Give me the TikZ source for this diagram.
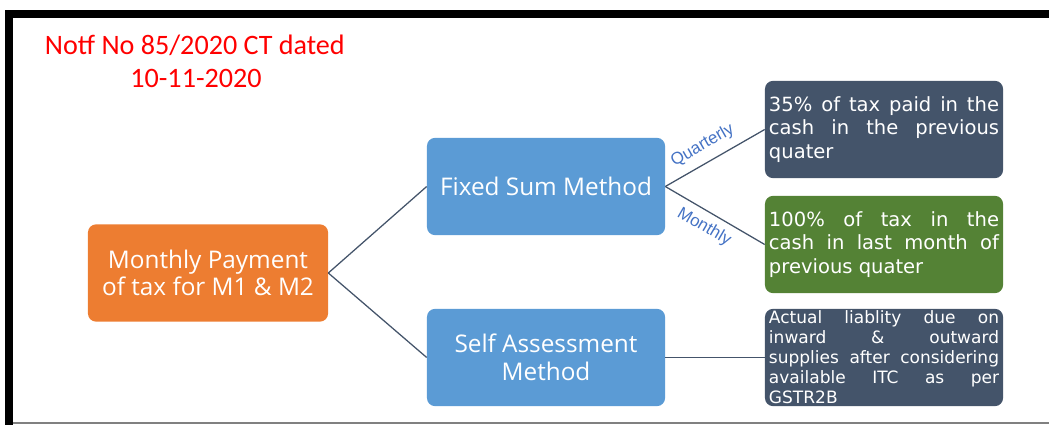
\documentclass[tikz,border=0pt]{standalone}
\usepackage{fontspec}
\setmainfont{Open Sans}
\newfontfamily\titlefont{Carlito}
\newfontfamily\tagfont{Liberation Sans}
\newfontfamily\notefamily{DejaVu Sans}
\usepackage{tikz}
\tikzset{>=latex}
\usetikzlibrary{calc,positioning}
\definecolor{orangebox}{HTML}{ED7D31}
\definecolor{bluebox}{HTML}{5B9BD5}
\definecolor{slatebox}{HTML}{44546A}
\definecolor{greenbox}{HTML}{548235}
\definecolor{tagblue}{HTML}{4472C4}
\newcommand{\boxfont}{\fontsize{17.3}{19.5}\selectfont}
\newcommand{\notefont}{\notefamily\fontsize{13.9}{16.8}\selectfont}
\newcommand{\smallnotefont}{\notefamily\fontsize{12.1}{14.2}\selectfont}

\begin{document}
\begin{tikzpicture}[x=0.025cm, y=-0.025cm,
            box/.style={rounded corners=0.2cm, text=white, minimum width=5.95cm, minimum height=2.43cm, align=center, font=\boxfont},
            note/.style={rounded corners=0.2cm, text=white, fill=slatebox, text width=5.75cm, inner xsep=0.1cm, minimum height=2.43cm, align=justify, font=\notefont},
            conn/.style={draw=slatebox, line width=0.9pt},
            tag/.style={text=tagblue, font=\tagfont\fontsize{12}{14}\selectfont, sloped, inner sep=6pt}]
            \useasboundingbox (0,0) rectangle (1049,425);
            \fill[black] (5,10) rectangle (1049,18);
            \fill[black] (5,10) rectangle (13,425);
            \draw[gray, line width=1.2pt] (13,423) -- (1049,423);

            \node[anchor=west, text=red, font=\titlefont\fontsize{20}{24}\selectfont] (title) at (40,45) {Notf No 85/2020 CT dated};
            \node[text=red, font=\titlefont\fontsize{20}{24}\selectfont] (date) at (196,78) {10-11-2020};

            \node[box, fill=orangebox, minimum width=6cm] (pay) at (208,273) {Monthly Payment\\of tax for M1 \& M2};
            \node[box, fill=bluebox] (fixed) at (546,186.5) {Fixed Sum Method};
            \node[box, fill=bluebox] (self) at (546,357.5) {Self Assessment\\Method};

            \node[note] (quarter) at (884,129.5) {35\% of tax paid in the\linebreak cash in the previous\linebreak quater};
            \node[note, fill=greenbox] (month) at (884,244.5) {100\% of tax in the\linebreak cash in last month of\linebreak previous quater};
            \node[note, font=\smallnotefont, inner ysep=1pt] (actual) at (884,357.5) {Actual liablity due on\linebreak inward \& outward\linebreak supplies after considering\linebreak available ITC as per\linebreak GSTR2B};

            \draw[conn] (pay.east) -- (fixed.west);
            \draw[conn] (pay.east) -- (self.west);
            \draw[conn] (fixed.east) -- node[tag, above, pos=0.46] {Quarterly} (quarter.west);
            \draw[conn] (fixed.east) -- node[tag, below, pos=0.47, inner sep=5pt] {Monthly} (month.west);
            \draw[conn] (self.east) -- (actual.west);
        \end{tikzpicture}
\end{document}
